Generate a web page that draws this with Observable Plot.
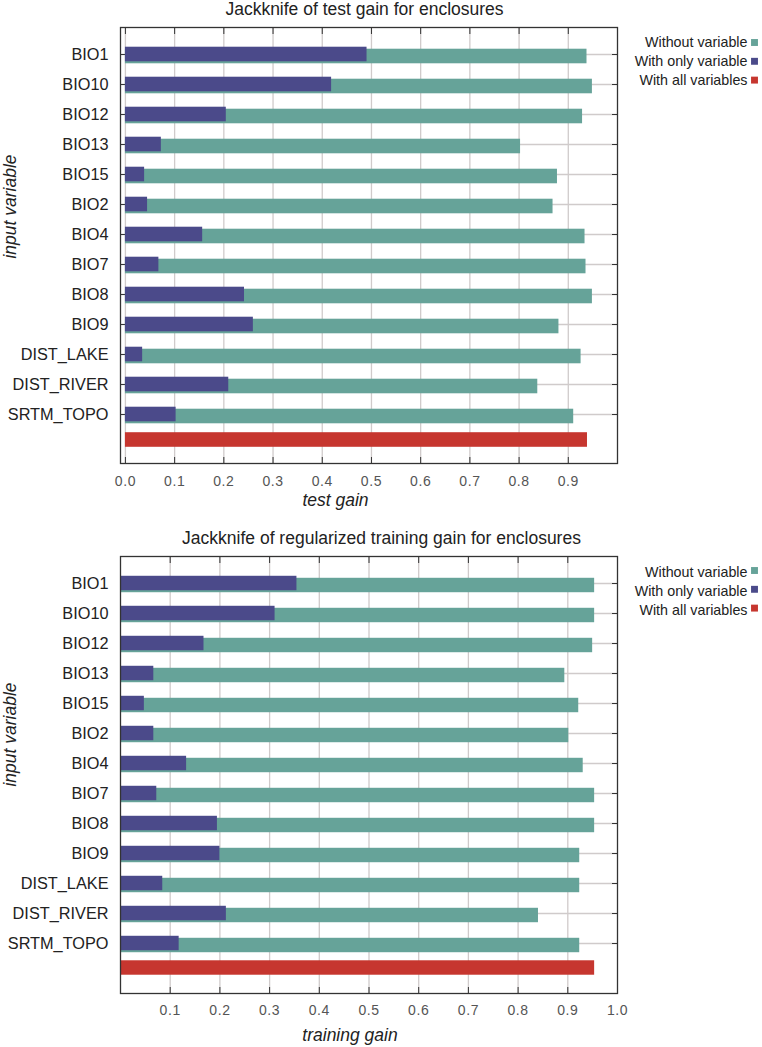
<!DOCTYPE html>
<html><head><meta charset="utf-8">
<script src="https://cdn.jsdelivr.net/npm/d3@7"></script>
<script src="https://cdn.jsdelivr.net/npm/@observablehq/plot@0.6"></script>
<style>
body{margin:0;background:#fff;}
#chart{width:762px;}
svg{display:block;}
</style></head><body><div id="chart"></div>
<script>
const variables = ["BIO1","BIO10","BIO12","BIO13","BIO15","BIO2","BIO4","BIO7","BIO8","BIO9","DIST_LAKE","DIST_RIVER","SRTM_TOPO"];
const allKey = "ALL";
const testWithout = [0.938,0.949,0.929,0.803,0.878,0.869,0.934,0.936,0.949,0.881,0.926,0.838,0.911];
const testOnly    = [0.491,0.419,0.205,0.073,0.039,0.045,0.157,0.068,0.242,0.260,0.035,0.210,0.103];
const testAll = 0.939;
const trainWithout = [0.954,0.954,0.950,0.894,0.922,0.902,0.931,0.954,0.954,0.924,0.924,0.841,0.924];
const trainOnly    = [0.355,0.311,0.168,0.067,0.048,0.067,0.133,0.073,0.195,0.200,0.085,0.213,0.118];
const trainAll = 0.954;
const testTicks = [0.0,0.1,0.2,0.3,0.4,0.5,0.6,0.7,0.8,0.9];
const trainTicks = [0.1,0.2,0.3,0.4,0.5,0.6,0.7,0.8,0.9,1.0];
const legendLabels = ["Without variable","With only variable","With all variables"];
const colors = ["#66a399","#4b4a8a","#c6362f"];

function panel(o) {
  const rows = variables.map((name,i)=>({name, without:o.without[i], only:o.only[i]}));
  const step = o.step, inset = (step-15)/2;
  const legend = legendLabels.flatMap((l,i)=>[
    Plot.text([l], {frameAnchor:"top-right", dx:130, dy:o.legendDy+i*18.8, textAnchor:"end", lineAnchor:"middle", fontSize:14.3, fill:"#222"}),
    Plot.dot([l], {frameAnchor:"top-right", dx:137, dy:o.legendDy+i*18.8+o.sqDy, symbol:"square", r:3.9, fill:colors[i], stroke:"none"})
  ]);
  return Plot.plot({
    width:762, height:o.height,
    style:{fontFamily:"'Liberation Sans', Arial, sans-serif", background:"#fff"},
    marginLeft:120, marginRight:145, marginTop:o.marginTop, marginBottom:o.marginBottom,
    x:{domain:o.xDomain, axis:null},
    y:{type:"band", domain:[...variables, allKey], range:[o.y0, o.y0+14*step], padding:0, axis:null},
    marks:[
      Plot.gridX(o.ticks.filter(t=>t<1), {stroke:"#d0cbcb", strokeOpacity:1, strokeWidth:1.3}),
      Plot.gridY(variables, {stroke:"#d0cbcb", strokeOpacity:1, strokeWidth:1.3}),
      Plot.axisY(variables, {anchor:"left", tickSize:-6, tickFormat:()=>"", label:null, stroke:"#333"}),
      Plot.axisY(variables, {anchor:"right", tickSize:-6, tickFormat:()=>"", label:null, stroke:"#333"}),
      Plot.axisX(o.ticks, {anchor:"top", tickSize:-6, tickFormat:()=>"", label:null, stroke:"#333"}),
      Plot.axisX(o.ticks, {anchor:"bottom", tickSize:-6, tickFormat:()=>"", label:null, stroke:"#333"}),
      Plot.barX(rows, {x:"without", y:"name", fill:colors[0], insetTop:inset, insetBottom:inset, dy:2}),
      Plot.barX(rows, {x:"only", y:"name", fill:colors[1], insetTop:inset, insetBottom:inset}),
      Plot.barX([{name:allKey, v:o.all}], {x:"v", y:"name", fill:colors[2], insetTop:inset, insetBottom:inset, dy:o.redDy}),
      Plot.frame({stroke:"#333", strokeWidth:1.3}),
      Plot.axisY(variables, {anchor:"left", tickSize:0, tickPadding:12, fontSize:16.3, fill:"#222", label:null}),
      Plot.axisX(o.ticks, {anchor:"bottom", tickSize:0, tickPadding:o.tickPad, tickFormat:d3.format(".1f"), fontSize:14, fill:"#555", label:null}),
      Plot.text([o.title], {frameAnchor:"top", dx:o.titleDx, dy:o.titleDy, lineAnchor:"middle", fontSize:17.5, fill:"#222"}),
      Plot.text([o.xLabel], {frameAnchor:"bottom", dx:o.xLabelDx, dy:o.xLabelDy, lineAnchor:"middle", fontSize:17.5, fontStyle:"italic", fill:"#222"}),
      Plot.text(["input variable"], {frameAnchor:"top-left", dx:-110, dy:o.yLabelDy, rotate:-90, textAnchor:"middle", lineAnchor:"middle", fontSize:17.5, fontStyle:"italic", fill:"#222"}),
      ...legend
    ]
  });
}

const topPanel = panel({
  title:"Jackknife of test gain for enclosures", xLabel:"test gain",
  without:testWithout, only:testOnly, all:testAll, ticks:testTicks, xDomain:[-0.01,1.0],
  height:528, marginTop:27, marginBottom:65, y0:35.8, step:30.42, redDy:-4.5,
  tickPad:12.5, titleDx:-4.5, titleDy:-18, xLabelDx:-33.5, xLabelDy:37, yLabelDy:179, legendDy:15, sqDy:0
});
const bottomPanel = panel({
  title:"Jackknife of regularized training gain for enclosures", xLabel:"training gain",
  without:trainWithout, only:trainOnly, all:trainAll, ticks:trainTicks, xDomain:[0,1.0],
  height:519, marginTop:28, marginBottom:54, y0:36.0, step:30.56, redDy:-5.5,
  tickPad:11.5, titleDx:12.5, titleDy:-18, xLabelDx:-19, xLabelDy:42, yLabelDy:178, legendDy:16, sqDy:-2
});
document.getElementById("chart").append(topPanel, bottomPanel);
d3.selectAll("svg g[aria-label='x-axis tick label'] text").style("letter-spacing","0.6px");
</script></body></html>
